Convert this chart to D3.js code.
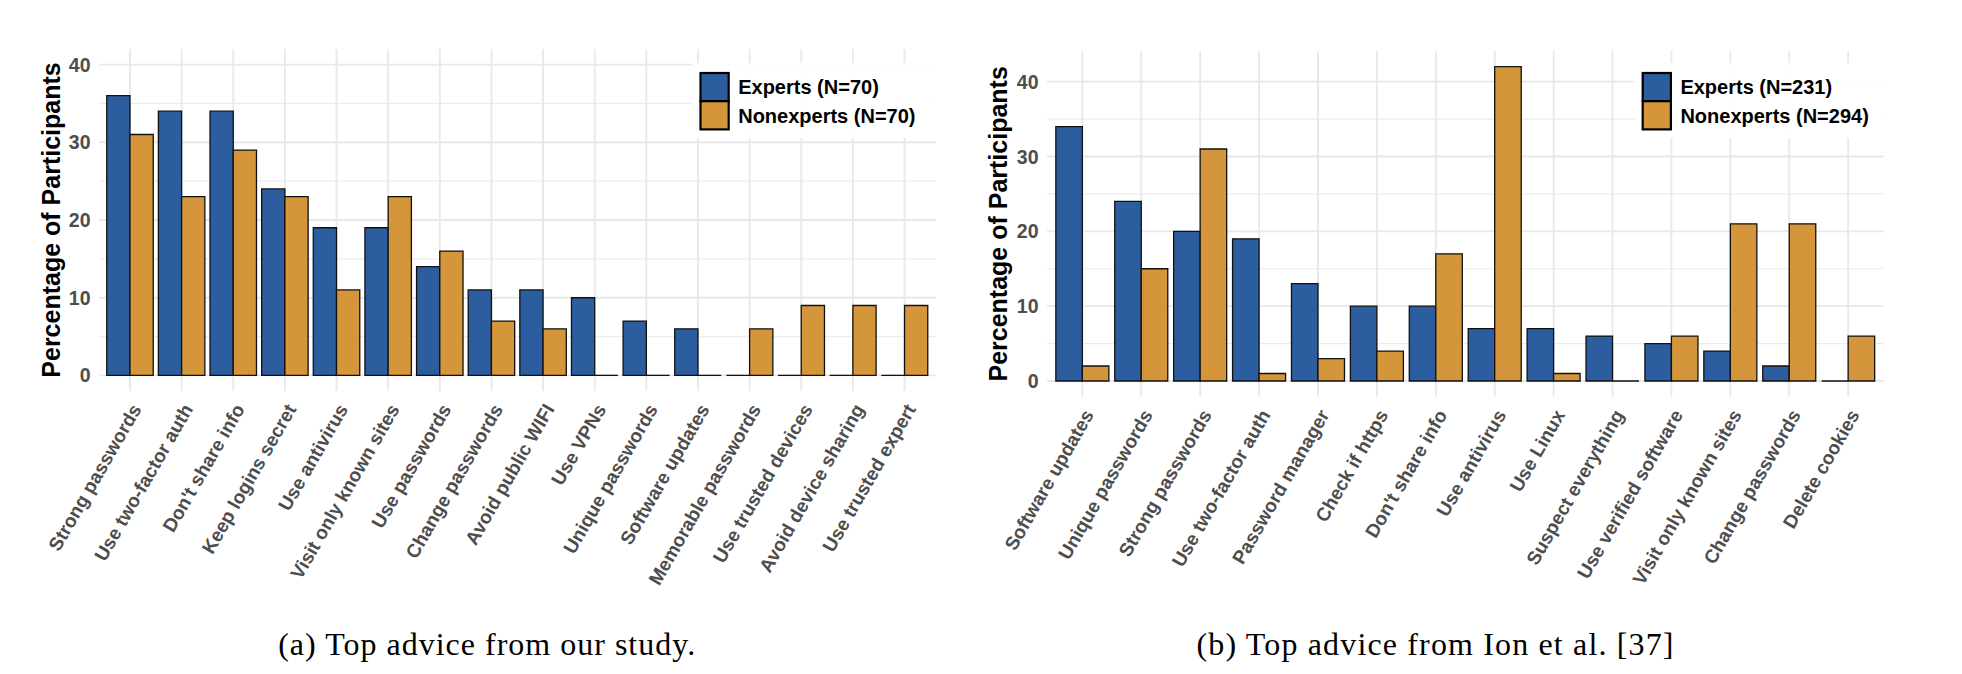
<!DOCTYPE html>
<html><head><meta charset="utf-8">
<script src="https://cdn.jsdelivr.net/npm/d3@7"></script>
<style>body{margin:0;background:#fff;} svg{display:block;}</style>
</head><body>
<svg id="chart" width="1962" height="674"></svg>
<script>
// ---- data ----
const leftCategories = ["Strong passwords", "Use two-factor auth", "Don't share info", "Keep logins secret",
  "Use antivirus", "Visit only known sites", "Use passwords", "Change passwords", "Avoid public WIFI",
  "Use VPNs", "Unique passwords", "Software updates", "Memorable passwords", "Use trusted devices",
  "Avoid device sharing", "Use trusted expert"];
const leftExperts    = [36, 34, 34, 24, 19, 19, 14, 11, 11, 10, 7, 6, 0, 0, 0, 0];
const leftNonexperts = [31, 23, 29, 23, 11, 23, 16, 7, 6, 0, 0, 0, 6, 9, 9, 9];
const leftLegend = ["Experts (N=70)", "Nonexperts (N=70)"];

const rightCategories = ["Software updates", "Unique passwords", "Strong passwords", "Use two-factor auth",
  "Password manager", "Check if https", "Don't share info", "Use antivirus", "Use Linux",
  "Suspect everything", "Use verified software", "Visit only known sites", "Change passwords", "Delete cookies"];
const rightExperts    = [34, 24, 20, 19, 13, 10, 10, 7, 7, 6, 5, 4, 2, 0];
const rightNonexperts = [2, 15, 31, 1, 3, 4, 17, 42, 1, 0, 6, 21, 21, 6];
const rightLegend = ["Experts (N=231)", "Nonexperts (N=294)"];

const yTicks = [0, 10, 20, 30, 40];
const yMinorTicks = [5, 15, 25, 35];
const yTitle = "Percentage of Participants";
const captions = ["(a) Top advice from our study.", "(b) Top advice from Ion et al. [37]"];
const seriesColors = ["#2c5d9e", "#d5953a"];

const svg = d3.select("#chart");
const SANS = "'Liberation Sans', Arial, Helvetica, sans-serif";

function drawPanel(cfg) {
  const g = svg.append("g");
  const n = cfg.categories.length;
  const x = d3.scalePoint().domain(cfg.categories).range([cfg.x0, cfg.x1]).padding(0.6);
  const step = x.step();
  const y = d3.scaleLinear().domain(cfg.domain).range([cfg.y1, cfg.y0]);

  // grid
  g.selectAll(".ymin").data(yMinorTicks).join("line")
    .attr("x1", cfg.x0).attr("x2", cfg.x1)
    .attr("y1", d => y(d)).attr("y2", d => y(d))
    .attr("stroke", "#ececec").attr("stroke-width", 1.2);
  g.selectAll(".ymaj").data(yTicks).join("line")
    .attr("x1", cfg.x0).attr("x2", cfg.x1)
    .attr("y1", d => y(d)).attr("y2", d => y(d))
    .attr("stroke", "#e8e8e8").attr("stroke-width", 1.8);
  g.selectAll(".xmaj").data(cfg.categories).join("line")
    .attr("x1", d => x(d)).attr("x2", d => x(d))
    .attr("y1", cfg.y0).attr("y2", cfg.y1)
    .attr("stroke", "#e8e8e8").attr("stroke-width", 1.8);

  // bars
  const bw = step * 0.45;
  const series = [cfg.experts, cfg.nonexperts];
  series.forEach((vals, si) => {
    g.append("g").selectAll("path").data(cfg.categories).join("path")
      .attr("d", (c, i) => {
        const xl = x(c) - bw + si * bw;
        const y0 = y(0), yv = y(vals[i]);
        return `M${xl},${y0}V${yv}H${xl + bw}V${y0}Z`;
      })
      .attr("fill", seriesColors[si])
      .attr("stroke", "#111").attr("stroke-width", 1.3)
      .attr("stroke-linejoin", "miter");
  });

  // y tick labels
  g.selectAll(".ytl").data(yTicks).join("text")
    .attr("x", cfg.x0 - 8.5).attr("y", d => y(d))
    .attr("dy", "0.36em")
    .attr("text-anchor", "end")
    .attr("font-family", SANS).attr("font-weight", "bold").attr("font-size", 19.5)
    .attr("fill", "#4d4d4d")
    .text(d => d);

  // x tick labels
  g.selectAll(".xtl").data(cfg.categories).join("text")
    .attr("transform", d => `translate(${x(d) + 12},${cfg.y1 + 18}) rotate(-60)`)
    .attr("text-anchor", "end")
    .attr("font-family", SANS).attr("font-weight", "bold").attr("font-size", 19)
    .attr("fill", "#4d4d4d")
    .text(d => d);

  // y title
  g.append("text")
    .attr("transform", `translate(${cfg.titleX},${(cfg.y0 + cfg.y1) / 2}) rotate(-90)`)
    .attr("text-anchor", "middle")
    .attr("font-family", SANS).attr("font-weight", "bold").attr("font-size", 25)
    .attr("fill", "#000")
    .text(yTitle);

  // legend
  const lx = cfg.legendX, ly = 73, ks = 28.2;
  g.append("rect").attr("x", lx - 8).attr("y", 63).attr("width", cfg.x1 - lx + 8).attr("height", 75)
    .attr("fill", "#fff").attr("fill-opacity", 0.92);
  cfg.legend.forEach((lab, i) => {
    g.append("rect").attr("x", lx).attr("y", ly + i * ks).attr("width", ks).attr("height", ks)
      .attr("fill", seriesColors[i]).attr("stroke", "#000").attr("stroke-width", 2.2);
    g.append("text").attr("x", lx + ks + 9.5).attr("y", ly + i * ks + ks / 2)
      .attr("dy", "0.36em")
      .attr("font-family", SANS).attr("font-weight", "bold").attr("font-size", 20)
      .attr("fill", "#000").text(lab);
  });

  // caption
  svg.append("text").attr("x", cfg.captionX).attr("y", 655)
    .attr("text-anchor", "middle")
    .attr("font-family", "'Liberation Serif', 'Times New Roman', serif").attr("font-size", 32)
    .attr("textLength", cfg.captionW).attr("lengthAdjust", "spacing")
    .attr("fill", "#000").text(cfg.caption);
}

drawPanel({
  categories: leftCategories, experts: leftExperts, nonexperts: leftNonexperts, legend: leftLegend,
  x0: 99, x1: 935.5, y0: 49, y1: 391, domain: [-2, 42], titleX: 59.5, legendX: 700.5,
  caption: captions[0], captionX: 486.7, captionW: 417
});
drawPanel({
  categories: rightCategories, experts: rightExperts, nonexperts: rightNonexperts, legend: rightLegend,
  x0: 1047, x1: 1883.5, y0: 51, y1: 396.7, domain: [-2.1, 44.1], titleX: 1006.5, legendX: 1642.7,
  caption: captions[1], captionX: 1435, captionW: 477
});
</script>
</body></html>
